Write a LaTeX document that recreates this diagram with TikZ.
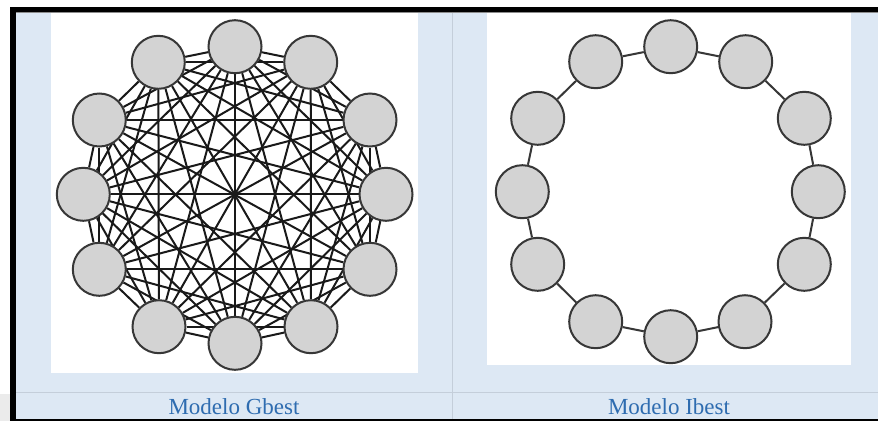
\documentclass[tikz,border=0pt]{standalone}
\usepackage{fontspec}
\setmainfont{Liberation Serif}
\pgfdeclarelayer{back}
\pgfdeclarelayer{edgelayer}
\pgfsetlayers{back,edgelayer,main}
\definecolor{cellblue}{RGB}{221,232,244}
\definecolor{gridline}{RGB}{196,206,218}
\definecolor{captionblue}{RGB}{46,108,176}
\definecolor{nodefill}{RGB}{211,211,211}
\definecolor{nodeline}{RGB}{55,55,55}
\tikzset{
  peer/.style={circle, minimum size=53pt, inner sep=0pt, draw=nodeline,
    line width=2pt, fill=nodefill},
  link/.style={line width=2pt, draw=black!90},
  ringlink/.style={line width=2pt, draw=nodeline},
  caption/.style={text=captionblue, font=\fontsize{23}{27}\selectfont,
    inner sep=0pt, anchor=base}
}
\begin{document}
\begin{tikzpicture}[x=1pt,y=-1pt]
\useasboundingbox (0,0) rectangle (878,421);

\begin{pgfonlayer}{back}
  % page and table cells
  \fill[white] (0,0) rectangle (878,421);
  \fill[black!8] (0,394) rectangle (10,421);
  \fill[cellblue] (16,12) rectangle (878,419);
  \fill[white] (51,13) rectangle (418,373);
  \fill[white] (487,13) rectangle (851,365);
  \draw[gridline, line width=1pt] (16,392) -- (878,392);
  \draw[gridline, line width=1.2pt] (452.5,13) -- (452.5,419);
  \draw[black!45, line width=1.5pt] (16,12.5) -- (878,12.5);
  % outer frame
  \fill[black] (10,7) rectangle (878,12);
  \fill[black] (10,7) rectangle (16,421);
  \fill[black] (16,419) rectangle (878,421);
\end{pgfonlayer}

% fully connected topology
\foreach \n/\x/\y in {0/235/46.7, 1/310.7/62.3, 2/370/120, 3/386/194.3,
    4/370/269.3, 5/311/326.7, 6/235/343.3, 7/159/326.7, 8/99.3/269.3,
    9/83.3/194.3, 10/99.3/120, 11/158.3/62.3}
  \node[peer] (g\n) at (\x,\y) {};

\begin{pgfonlayer}{edgelayer}
  \foreach \a in {0,...,10} {
    \pgfmathtruncatemacro{\s}{\a+1}
    \foreach \b in {\s,...,11}
      \draw[link] (g\a) -- (g\b);
  }
\end{pgfonlayer}

% ring topology
\foreach \n/\x/\y in {0/670.7/46.7, 1/745.7/61.7, 2/804.3/118.3, 3/818.3/191.7,
    4/804.3/264.3, 5/745/321.7, 6/670.7/336.7, 7/595.7/321.7, 8/537.7/264.3,
    9/522.3/191.7, 10/537.7/118.3, 11/595.7/61.7}
  \node[peer] (i\n) at (\x,\y) {};

\begin{pgfonlayer}{edgelayer}
  \foreach \a in {0,...,11} {
    \pgfmathtruncatemacro{\b}{mod(\a+1,12)}
    \draw[ringlink] (i\a) -- (i\b);
  }
\end{pgfonlayer}

\node[caption] (capG) at (234,414) {Modelo Gbest};
\node[caption] (capI) at (669,414) {Modelo Ibest};
\end{tikzpicture}
\end{document}
